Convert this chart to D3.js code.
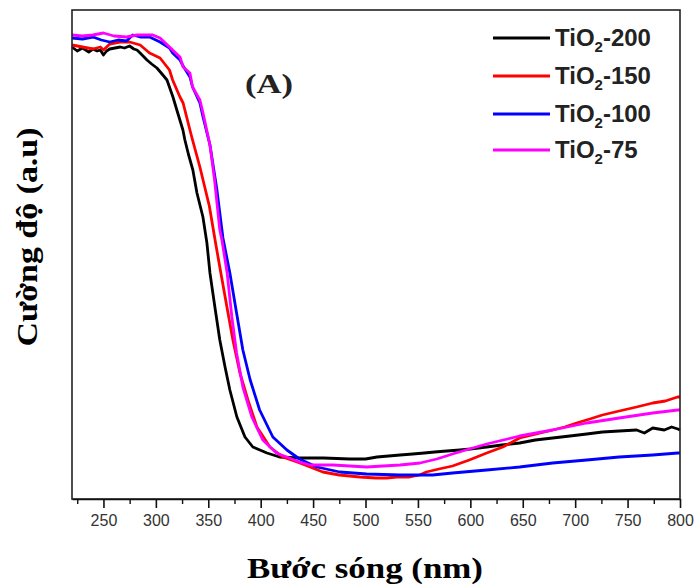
<!DOCTYPE html>
<html><head><meta charset="utf-8">
<script src="https://cdn.jsdelivr.net/npm/d3@7"></script>
<style>body{margin:0;background:#fff}svg{display:block}</style>
</head><body>
<svg id="c" width="698" height="587"></svg>
<script>
// ---- data (wavelength nm, intensity a.u.) ----
const seriesNames = ["TiO2-200", "TiO2-150", "TiO2-100", "TiO2-75"];
const seriesColors = ["#000000", "#ff0000", "#0000ff", "#ff00ff"];

const wl200  = [220,225,230,236,240,244,247,250,253,256,261,266,270,275,279,282,285,291.5,296,301,306.7,310.6,316.3,320,325.8,327.7,331,335.3,339.2,344.9,348.7,351.6,356.3,361,366,370.6,377.3,385,392.5,406,418,437,460,485,500,511,522,533,545,556,566,577.5,590,600,615.6,630,647,662,678.5,695,711,726,742,758.6,766,774,785,792,798,800];
const int200 = [452,448,451,447,450,448,449,444,448,450,451,452,451,453,450,449,446,439,435,431,424,419,402,389,369,359,345,329,306,282,256,226,192,159,132,109,82,62,52,46,42,41,41,40,40,42,43,44,45,46,47,48,49,50,52,54,56,59,61,63,65,67,68,69,66,71,69,72,70,69];

const wl150  = [220,230,240,247,250,256,266,275,285,294,304,313,316,323,326,332.5,335,342,345,351,357.3,362,367.8,373.5,380.2,387.8,396.4,408.8,421,437.4,459.3,475,494.5,510,520,530,542,551.7,558,570,583,599,615.6,631,647,663,678.5,690,701.4,714,726,742,758.6,774,786,797.7,800];
const int150 = [454,452,450,452,449,455,457,457,454,446,441,429,419,402,396,369,359,332,319,293,254,226,192,159,126,99,72,52,42,36,27,24,22,21,21,22,22,24,27,30,33,39,46,52,61,65,69,72,76,80,84,88,92,96,98,102,102];

const wl100  = [220,230,240,248,256,264,272,278,285,294,304,313,316,323,326,332.5,335,342,345,351.6,358,364,370.6,377,383,390,399,411.6,425,437,453.6,475.5,501,533,564,583,615.6,647,678.5,711,742,774,798,800];
const int100 = [461,460,462,459,457,459,458,464,462,462,457,451,446,439,433,422,412,396,382,354,311,261,226,186,149,119,89,62,49,40,32,27,25,24,24,26,29,32,36,39,42,44,46,46];

const wl75   = [220,230,240,250,260,272,282,294,297,304,313,323,326,332.5,335,342,345,351.6,356,361,363,368,372.5,377,383,391.6,402,415,437,447,469,501,533,552,568,583,599,615.6,647,678.5,711,742,774,798,800];
const int75  = [464,463,464,466,463,462,464,464,464,461,452,442,432,426,412,399,386,354,319,269,259,226,182,146,112,82,59,46,37,34,34,32,34,36,40,45,50,55,63,69,76,81,86,89,89];

const xTicks = [250,300,350,400,450,500,550,600,650,700,750,800];
const xMinorTicks = [225,275,325,375,425,475,525,575,625,675,725,775];

const series = [
  {name: seriesNames[0], color: seriesColors[0], x: wl200, y: int200},
  {name: seriesNames[1], color: seriesColors[1], x: wl150, y: int150},
  {name: seriesNames[2], color: seriesColors[2], x: wl100, y: int100},
  {name: seriesNames[3], color: seriesColors[3], x: wl75,  y: int75}
];

// ---- layout ----
const L = 72, R = 680, T = 10, B = 499;
const svg = d3.select("#c");
const x = d3.scaleLinear().domain([220, 800]).range([L, R]);
const y = d3.scaleLinear().domain([0, 489]).range([B, T]);

// curves
const line = d3.line().x(d => x(d[0])).y(d => y(d[1])).curve(d3.curveLinear);
series.forEach(s => {
  svg.append("path")
    .datum(s.x.map((v, i) => [v, s.y[i]]))
    .attr("d", line)
    .attr("fill", "none")
    .attr("stroke", s.color)
    .attr("stroke-width", 2.8)
    .attr("stroke-linejoin", "round");
});

// frame
svg.append("rect").attr("x", L).attr("y", T).attr("width", R - L).attr("height", B - T)
  .attr("fill", "none").attr("stroke", "#222").attr("stroke-width", 1.6);

// bottom axis
const ax = svg.append("g").attr("transform", `translate(0,${B})`)
  .call(d3.axisBottom(x).tickValues(xTicks).tickSize(9).tickPadding(7).tickSizeOuter(0));
ax.select(".domain").attr("stroke", "#111").attr("stroke-width", 1.6);
ax.selectAll(".tick line").attr("stroke", "#111").attr("stroke-width", 1.6);
ax.selectAll(".tick text").attr("font-family", "Liberation Sans, Arial, sans-serif")
  .attr("font-size", 16).attr("fill", "#333");
const axm = svg.append("g").attr("transform", `translate(0,${B})`)
  .call(d3.axisBottom(x).tickValues(xMinorTicks).tickSize(5).tickFormat(""));
axm.select(".domain").remove();
axm.selectAll(".tick line").attr("stroke", "#111").attr("stroke-width", 1.4);

// axis titles
svg.append("text").attr("x", 365).attr("y", 578).attr("text-anchor", "middle")
  .attr("font-family", "Liberation Serif, Times New Roman, serif").attr("font-weight", "bold")
  .attr("font-size", 30).attr("textLength", 236).attr("lengthAdjust", "spacingAndGlyphs")
  .text("Bước sóng (nm)");
svg.append("text").attr("transform", "translate(37,237) rotate(-90)").attr("text-anchor", "middle")
  .attr("font-family", "Liberation Serif, Times New Roman, serif").attr("font-weight", "bold")
  .attr("font-size", 30).attr("textLength", 219).attr("lengthAdjust", "spacingAndGlyphs")
  .text("Cường độ (a.u)");

// panel label
svg.append("text").attr("x", 245).attr("y", 93)
  .attr("font-family", "Liberation Serif, Times New Roman, serif").attr("font-weight", "bold")
  .attr("font-size", 27).attr("fill", "#222").attr("textLength", 48).attr("lengthAdjust", "spacingAndGlyphs")
  .text("(A)");

// legend
const legY = [38, 76, 114, 150];
series.forEach((s, i) => {
  svg.append("line").attr("x1", 493).attr("x2", 550).attr("y1", legY[i]).attr("y2", legY[i])
    .attr("stroke", s.color).attr("stroke-width", 2.8);
  const t = svg.append("text").attr("x", 555).attr("y", legY[i] + 8)
    .attr("font-family", "Liberation Sans, Arial, sans-serif").attr("font-size", 24)
    .attr("font-weight", "bold").attr("fill", "#222");
  t.append("tspan").text("TiO");
  t.append("tspan").attr("font-size", 15).attr("dy", 6).text("2");
  t.append("tspan").attr("dy", -6).text("-" + s.name.split("-")[1]);
});
</script>
</body></html>
